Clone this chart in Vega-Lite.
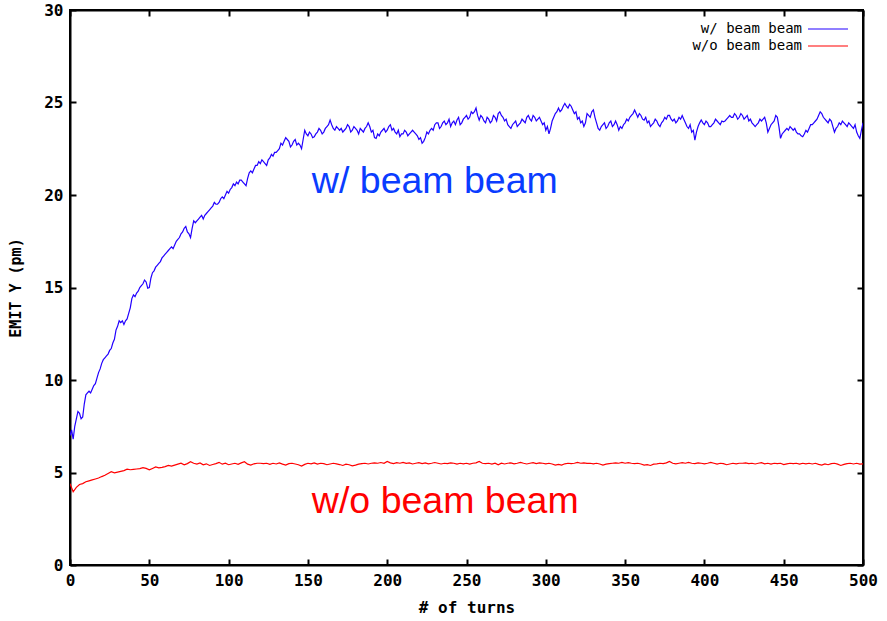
{
  "$schema": "https://vega.github.io/schema/vega-lite/v6.json",
  "width": 793,
  "height": 555,
  "autosize": {"type": "none"},
  "padding": {"left": 70, "top": 10, "right": 24, "bottom": 56},
  "background": "white",
  "config": {
    "view": {"stroke": "black", "strokeWidth": 2},
    "axis": {
      "grid": false,
      "domainColor": "black",
      "domainWidth": 2,
      "tickColor": "black",
      "tickWidth": 2,
      "tickSize": -6,
      "labelFlush": false,
      "labelFont": "DejaVu Sans Mono",
      "labelFontWeight": "bold",
      "labelFontSize": 16,
      "labelColor": "black",
      "titleFont": "DejaVu Sans Mono",
      "titleFontWeight": "bold",
      "titleColor": "black"
    },
    "legend": {
      "orient": "top-right",
      "offset": 12,
      "labelFont": "DejaVu Sans Mono",
      "labelFontSize": 14,
      "labelColor": "black",
      "labelAlign": "right",
      "labelOffset": -33,
      "symbolType": "M-5,0H5",
      "symbolSize": 64,
      "symbolStrokeWidth": 1.2,
      "rowPadding": 3
    }
  },
  "datasets": {
    "withbb": [
      {"turn":0,"emit":7.0},{"turn":1,"emit":7.3},{"turn":2,"emit":6.8},{"turn":3,"emit":7.5},{"turn":4,"emit":7.9},{"turn":5,"emit":8.3},{"turn":6,"emit":8.2},{"turn":7,"emit":7.9},{"turn":8,"emit":8.0},{"turn":9,"emit":8.7},
      {"turn":10,"emit":9.2},{"turn":11,"emit":9.3},{"turn":12,"emit":9.4},{"turn":13,"emit":9.3},{"turn":14,"emit":9.5},{"turn":15,"emit":9.7},{"turn":16,"emit":9.8},{"turn":17,"emit":10.1},{"turn":18,"emit":10.4},{"turn":19,"emit":10.6},
      {"turn":20,"emit":10.9},{"turn":21,"emit":11.1},{"turn":22,"emit":11.2},{"turn":23,"emit":11.3},{"turn":24,"emit":11.4},{"turn":25,"emit":11.6},{"turn":26,"emit":11.7},{"turn":27,"emit":12.0},{"turn":28,"emit":12.2},{"turn":29,"emit":12.7},
      {"turn":30,"emit":12.9},{"turn":31,"emit":13.2},{"turn":32,"emit":13.1},{"turn":33,"emit":13.2},{"turn":34,"emit":13.0},{"turn":35,"emit":13.2},{"turn":36,"emit":13.3},{"turn":37,"emit":13.6},{"turn":38,"emit":13.9},{"turn":39,"emit":14.4},
      {"turn":40,"emit":14.6},{"turn":41,"emit":14.5},{"turn":42,"emit":14.7},{"turn":43,"emit":14.8},{"turn":44,"emit":15.0},{"turn":45,"emit":15.1},{"turn":46,"emit":15.2},{"turn":47,"emit":15.4},{"turn":48,"emit":15.3},{"turn":49,"emit":14.96},
      {"turn":50,"emit":15.0},{"turn":51,"emit":15.5},{"turn":52,"emit":15.8},{"turn":53,"emit":15.9},{"turn":54,"emit":16.1},{"turn":55,"emit":16.2},{"turn":56,"emit":16.3},{"turn":57,"emit":16.4},{"turn":58,"emit":16.6},{"turn":59,"emit":16.7},
      {"turn":60,"emit":16.8},{"turn":61,"emit":16.9},{"turn":62,"emit":17.0},{"turn":63,"emit":17.1},{"turn":64,"emit":17.2},{"turn":65,"emit":17.1},{"turn":66,"emit":17.3},{"turn":67,"emit":17.5},{"turn":68,"emit":17.6},{"turn":69,"emit":17.7},
      {"turn":70,"emit":17.9},{"turn":71,"emit":18.0},{"turn":72,"emit":18.2},{"turn":73,"emit":18.3},{"turn":74,"emit":18.0},{"turn":75,"emit":17.9},{"turn":76,"emit":17.7},{"turn":77,"emit":18.2},{"turn":78,"emit":18.6},{"turn":79,"emit":18.5},
      {"turn":80,"emit":18.6},{"turn":81,"emit":18.7},{"turn":82,"emit":18.8},{"turn":83,"emit":18.9},{"turn":84,"emit":18.7},{"turn":85,"emit":18.9},{"turn":86,"emit":19.0},{"turn":87,"emit":19.1},{"turn":88,"emit":19.2},{"turn":89,"emit":19.3},
      {"turn":90,"emit":19.4},{"turn":91,"emit":19.6},{"turn":92,"emit":19.5},{"turn":93,"emit":19.5},{"turn":94,"emit":19.6},{"turn":95,"emit":19.8},{"turn":96,"emit":19.9},{"turn":97,"emit":19.8},{"turn":98,"emit":20.0},{"turn":99,"emit":20.2},
      {"turn":100,"emit":20.1},{"turn":101,"emit":20.3},{"turn":102,"emit":20.4},{"turn":103,"emit":20.6},{"turn":104,"emit":20.5},{"turn":105,"emit":20.7},{"turn":106,"emit":20.6},{"turn":107,"emit":20.8},{"turn":108,"emit":20.8},{"turn":109,"emit":20.7},
      {"turn":110,"emit":20.6},{"turn":111,"emit":20.5},{"turn":112,"emit":20.9},{"turn":113,"emit":21.2},{"turn":114,"emit":21.3},{"turn":115,"emit":21.2},{"turn":116,"emit":21.4},{"turn":117,"emit":21.6},{"turn":118,"emit":21.6},{"turn":119,"emit":21.8},
      {"turn":120,"emit":21.7},{"turn":121,"emit":21.9},{"turn":122,"emit":21.8},{"turn":123,"emit":21.7},{"turn":124,"emit":21.6},{"turn":125,"emit":21.9},{"turn":126,"emit":22.0},{"turn":127,"emit":22.2},{"turn":128,"emit":22.1},{"turn":129,"emit":22.3},
      {"turn":130,"emit":22.3},{"turn":131,"emit":22.4},{"turn":132,"emit":22.5},{"turn":133,"emit":22.8},{"turn":134,"emit":22.7},{"turn":135,"emit":22.9},{"turn":136,"emit":23.1},{"turn":137,"emit":23.0},{"turn":138,"emit":22.9},{"turn":139,"emit":22.6},
      {"turn":140,"emit":22.7},{"turn":141,"emit":22.9},{"turn":142,"emit":23.0},{"turn":143,"emit":22.7},{"turn":144,"emit":22.8},{"turn":145,"emit":22.7},{"turn":146,"emit":22.5},{"turn":147,"emit":23.0},{"turn":148,"emit":23.5},{"turn":149,"emit":23.3},
      {"turn":150,"emit":23.2},{"turn":151,"emit":23.4},{"turn":152,"emit":23.3},{"turn":153,"emit":23.1},{"turn":154,"emit":23.15},{"turn":155,"emit":23.3},{"turn":156,"emit":23.4},{"turn":157,"emit":23.6},{"turn":158,"emit":23.5},{"turn":159,"emit":23.3},
      {"turn":160,"emit":23.4},{"turn":161,"emit":23.6},{"turn":162,"emit":23.7},{"turn":163,"emit":23.8},{"turn":164,"emit":24.05},{"turn":165,"emit":23.8},{"turn":166,"emit":23.6},{"turn":167,"emit":23.5},{"turn":168,"emit":23.7},{"turn":169,"emit":23.6},
      {"turn":170,"emit":23.5},{"turn":171,"emit":23.6},{"turn":172,"emit":23.4},{"turn":173,"emit":23.5},{"turn":174,"emit":23.6},{"turn":175,"emit":23.8},{"turn":176,"emit":23.7},{"turn":177,"emit":23.4},{"turn":178,"emit":23.5},{"turn":179,"emit":23.7},
      {"turn":180,"emit":23.6},{"turn":181,"emit":23.5},{"turn":182,"emit":23.3},{"turn":183,"emit":23.6},{"turn":184,"emit":23.5},{"turn":185,"emit":23.4},{"turn":186,"emit":23.6},{"turn":187,"emit":23.7},{"turn":188,"emit":23.9},{"turn":189,"emit":23.7},
      {"turn":190,"emit":23.4},{"turn":191,"emit":23.5},{"turn":192,"emit":23.1},{"turn":193,"emit":23.06},{"turn":194,"emit":23.3},{"turn":195,"emit":23.2},{"turn":196,"emit":23.4},{"turn":197,"emit":23.5},{"turn":198,"emit":23.6},{"turn":199,"emit":23.4},
      {"turn":200,"emit":23.5},{"turn":201,"emit":23.7},{"turn":202,"emit":23.8},{"turn":203,"emit":23.5},{"turn":204,"emit":23.6},{"turn":205,"emit":23.4},{"turn":206,"emit":23.3},{"turn":207,"emit":23.5},{"turn":208,"emit":23.15},{"turn":209,"emit":23.3},
      {"turn":210,"emit":23.3},{"turn":211,"emit":23.5},{"turn":212,"emit":23.4},{"turn":213,"emit":23.2},{"turn":214,"emit":23.3},{"turn":215,"emit":23.4},{"turn":216,"emit":23.5},{"turn":217,"emit":23.4},{"turn":218,"emit":23.3},{"turn":219,"emit":23.2},
      {"turn":220,"emit":23.0},{"turn":221,"emit":23.1},{"turn":222,"emit":22.8},{"turn":223,"emit":22.9},{"turn":224,"emit":23.1},{"turn":225,"emit":23.4},{"turn":226,"emit":23.3},{"turn":227,"emit":23.5},{"turn":228,"emit":23.6},{"turn":229,"emit":23.5},
      {"turn":230,"emit":23.8},{"turn":231,"emit":23.9},{"turn":232,"emit":23.9},{"turn":233,"emit":23.6},{"turn":234,"emit":23.7},{"turn":235,"emit":23.9},{"turn":236,"emit":24.0},{"turn":237,"emit":23.8},{"turn":238,"emit":23.9},{"turn":239,"emit":24.1},
      {"turn":240,"emit":23.7},{"turn":241,"emit":23.9},{"turn":242,"emit":24.0},{"turn":243,"emit":23.8},{"turn":244,"emit":24.05},{"turn":245,"emit":24.2},{"turn":246,"emit":23.8},{"turn":247,"emit":23.9},{"turn":248,"emit":24.1},{"turn":249,"emit":24.2},
      {"turn":250,"emit":24.3},{"turn":251,"emit":24.1},{"turn":252,"emit":24.2},{"turn":253,"emit":24.5},{"turn":254,"emit":24.4},{"turn":255,"emit":24.5},{"turn":256,"emit":24.7},{"turn":257,"emit":24.3},{"turn":258,"emit":24.05},{"turn":259,"emit":24.3},
      {"turn":260,"emit":24.2},{"turn":261,"emit":24.0},{"turn":262,"emit":23.9},{"turn":263,"emit":24.2},{"turn":264,"emit":24.1},{"turn":265,"emit":23.9},{"turn":266,"emit":24.0},{"turn":267,"emit":24.3},{"turn":268,"emit":24.2},{"turn":269,"emit":24.0},
      {"turn":270,"emit":24.4},{"turn":271,"emit":24.5},{"turn":272,"emit":24.3},{"turn":273,"emit":24.2},{"turn":274,"emit":24.0},{"turn":275,"emit":24.1},{"turn":276,"emit":23.8},{"turn":277,"emit":23.7},{"turn":278,"emit":23.6},{"turn":279,"emit":23.8},
      {"turn":280,"emit":23.9},{"turn":281,"emit":24.0},{"turn":282,"emit":23.7},{"turn":283,"emit":23.8},{"turn":284,"emit":23.9},{"turn":285,"emit":24.1},{"turn":286,"emit":24.0},{"turn":287,"emit":23.9},{"turn":288,"emit":24.2},{"turn":289,"emit":24.3},
      {"turn":290,"emit":24.1},{"turn":291,"emit":24.0},{"turn":292,"emit":24.3},{"turn":293,"emit":24.2},{"turn":294,"emit":24.0},{"turn":295,"emit":24.1},{"turn":296,"emit":24.2},{"turn":297,"emit":24.0},{"turn":298,"emit":23.8},{"turn":299,"emit":23.9},
      {"turn":300,"emit":23.5},{"turn":301,"emit":23.7},{"turn":302,"emit":23.3},{"turn":303,"emit":23.6},{"turn":304,"emit":24.0},{"turn":305,"emit":24.2},{"turn":306,"emit":24.4},{"turn":307,"emit":24.5},{"turn":308,"emit":24.7},{"turn":309,"emit":24.5},
      {"turn":310,"emit":24.6},{"turn":311,"emit":24.8},{"turn":312,"emit":24.95},{"turn":313,"emit":24.8},{"turn":314,"emit":24.7},{"turn":315,"emit":24.9},{"turn":316,"emit":24.8},{"turn":317,"emit":24.6},{"turn":318,"emit":24.4},{"turn":319,"emit":24.5},
      {"turn":320,"emit":24.1},{"turn":321,"emit":24.2},{"turn":322,"emit":23.9},{"turn":323,"emit":24.0},{"turn":324,"emit":23.7},{"turn":325,"emit":23.9},{"turn":326,"emit":24.4},{"turn":327,"emit":24.3},{"turn":328,"emit":24.2},{"turn":329,"emit":24.5},
      {"turn":330,"emit":24.6},{"turn":331,"emit":24.2},{"turn":332,"emit":23.9},{"turn":333,"emit":23.6},{"turn":334,"emit":23.5},{"turn":335,"emit":23.7},{"turn":336,"emit":23.8},{"turn":337,"emit":23.9},{"turn":338,"emit":23.6},{"turn":339,"emit":23.7},
      {"turn":340,"emit":23.9},{"turn":341,"emit":24.0},{"turn":342,"emit":23.7},{"turn":343,"emit":23.8},{"turn":344,"emit":24.0},{"turn":345,"emit":23.8},{"turn":346,"emit":23.5},{"turn":347,"emit":23.7},{"turn":348,"emit":23.6},{"turn":349,"emit":23.8},
      {"turn":350,"emit":23.9},{"turn":351,"emit":24.1},{"turn":352,"emit":24.0},{"turn":353,"emit":24.2},{"turn":354,"emit":24.3},{"turn":355,"emit":24.4},{"turn":356,"emit":24.6},{"turn":357,"emit":24.4},{"turn":358,"emit":24.2},{"turn":359,"emit":24.4},
      {"turn":360,"emit":24.3},{"turn":361,"emit":24.1},{"turn":362,"emit":24.05},{"turn":363,"emit":24.2},{"turn":364,"emit":23.9},{"turn":365,"emit":24.0},{"turn":366,"emit":23.7},{"turn":367,"emit":23.8},{"turn":368,"emit":23.9},{"turn":369,"emit":24.1},
      {"turn":370,"emit":24.0},{"turn":371,"emit":23.8},{"turn":372,"emit":23.7},{"turn":373,"emit":23.9},{"turn":374,"emit":24.0},{"turn":375,"emit":24.2},{"turn":376,"emit":24.1},{"turn":377,"emit":24.3},{"turn":378,"emit":24.3},{"turn":379,"emit":24.1},
      {"turn":380,"emit":24.0},{"turn":381,"emit":24.1},{"turn":382,"emit":23.9},{"turn":383,"emit":24.0},{"turn":384,"emit":24.2},{"turn":385,"emit":24.1},{"turn":386,"emit":24.3},{"turn":387,"emit":24.1},{"turn":388,"emit":23.9},{"turn":389,"emit":23.7},
      {"turn":390,"emit":23.6},{"turn":391,"emit":23.8},{"turn":392,"emit":23.4},{"turn":393,"emit":23.5},{"turn":394,"emit":22.97},{"turn":395,"emit":23.4},{"turn":396,"emit":23.7},{"turn":397,"emit":23.9},{"turn":398,"emit":24.05},{"turn":399,"emit":23.9},
      {"turn":400,"emit":23.8},{"turn":401,"emit":24.0},{"turn":402,"emit":23.9},{"turn":403,"emit":23.7},{"turn":404,"emit":23.7},{"turn":405,"emit":23.8},{"turn":406,"emit":23.9},{"turn":407,"emit":24.1},{"turn":408,"emit":24.0},{"turn":409,"emit":23.9},
      {"turn":410,"emit":23.8},{"turn":411,"emit":24.0},{"turn":412,"emit":23.96},{"turn":413,"emit":24.0},{"turn":414,"emit":24.1},{"turn":415,"emit":24.2},{"turn":416,"emit":24.3},{"turn":417,"emit":24.2},{"turn":418,"emit":24.2},{"turn":419,"emit":24.4},
      {"turn":420,"emit":24.3},{"turn":421,"emit":24.1},{"turn":422,"emit":24.2},{"turn":423,"emit":24.4},{"turn":424,"emit":24.3},{"turn":425,"emit":24.1},{"turn":426,"emit":24.2},{"turn":427,"emit":24.3},{"turn":428,"emit":24.0},{"turn":429,"emit":24.1},
      {"turn":430,"emit":23.9},{"turn":431,"emit":23.8},{"turn":432,"emit":23.7},{"turn":433,"emit":23.8},{"turn":434,"emit":23.9},{"turn":435,"emit":24.1},{"turn":436,"emit":24.0},{"turn":437,"emit":24.1},{"turn":438,"emit":24.2},{"turn":439,"emit":23.9},
      {"turn":440,"emit":23.4},{"turn":441,"emit":23.6},{"turn":442,"emit":23.8},{"turn":443,"emit":23.9},{"turn":444,"emit":24.0},{"turn":445,"emit":24.3},{"turn":446,"emit":24.2},{"turn":447,"emit":23.7},{"turn":448,"emit":23.06},{"turn":449,"emit":23.3},
      {"turn":450,"emit":23.4},{"turn":451,"emit":23.5},{"turn":452,"emit":23.6},{"turn":453,"emit":23.5},{"turn":454,"emit":23.7},{"turn":455,"emit":23.6},{"turn":456,"emit":23.5},{"turn":457,"emit":23.6},{"turn":458,"emit":23.4},{"turn":459,"emit":23.3},
      {"turn":460,"emit":23.3},{"turn":461,"emit":23.2},{"turn":462,"emit":23.15},{"turn":463,"emit":23.3},{"turn":464,"emit":23.5},{"turn":465,"emit":23.4},{"turn":466,"emit":23.6},{"turn":467,"emit":23.8},{"turn":468,"emit":23.8},{"turn":469,"emit":23.9},
      {"turn":470,"emit":24.0},{"turn":471,"emit":24.1},{"turn":472,"emit":24.3},{"turn":473,"emit":24.5},{"turn":474,"emit":24.4},{"turn":475,"emit":24.2},{"turn":476,"emit":24.1},{"turn":477,"emit":24.0},{"turn":478,"emit":23.9},{"turn":479,"emit":24.1},
      {"turn":480,"emit":24.0},{"turn":481,"emit":23.7},{"turn":482,"emit":23.4},{"turn":483,"emit":23.6},{"turn":484,"emit":23.7},{"turn":485,"emit":23.9},{"turn":486,"emit":23.8},{"turn":487,"emit":24.0},{"turn":488,"emit":23.9},{"turn":489,"emit":23.8},
      {"turn":490,"emit":23.7},{"turn":491,"emit":23.9},{"turn":492,"emit":23.8},{"turn":493,"emit":23.7},{"turn":494,"emit":23.6},{"turn":495,"emit":23.8},{"turn":496,"emit":23.4},{"turn":497,"emit":23.2},{"turn":498,"emit":23.06},{"turn":499,"emit":23.5},
      {"turn":500,"emit":23.9}
    ],
    "nobb": [
      {"turn":0,"emit":4.4},{"turn":2,"emit":3.96},{"turn":4,"emit":4.2},{"turn":6,"emit":4.35},{"turn":8,"emit":4.4},
      {"turn":10,"emit":4.5},{"turn":12,"emit":4.55},{"turn":14,"emit":4.6},{"turn":16,"emit":4.65},{"turn":18,"emit":4.7},
      {"turn":20,"emit":4.78},{"turn":22,"emit":4.85},{"turn":24,"emit":4.95},{"turn":26,"emit":5.04},{"turn":28,"emit":4.98},
      {"turn":30,"emit":5.02},{"turn":32,"emit":5.06},{"turn":34,"emit":5.1},{"turn":36,"emit":5.18},{"turn":38,"emit":5.15},
      {"turn":40,"emit":5.17},{"turn":42,"emit":5.19},{"turn":44,"emit":5.21},{"turn":46,"emit":5.26},{"turn":48,"emit":5.22},
      {"turn":50,"emit":5.14},{"turn":52,"emit":5.22},{"turn":54,"emit":5.3},{"turn":56,"emit":5.25},{"turn":58,"emit":5.28},
      {"turn":60,"emit":5.32},{"turn":62,"emit":5.38},{"turn":64,"emit":5.35},{"turn":66,"emit":5.4},{"turn":68,"emit":5.45},
      {"turn":70,"emit":5.5},{"turn":72,"emit":5.42},{"turn":74,"emit":5.48},{"turn":76,"emit":5.58},{"turn":78,"emit":5.5},
      {"turn":80,"emit":5.45},{"turn":82,"emit":5.52},{"turn":84,"emit":5.42},{"turn":86,"emit":5.47},{"turn":88,"emit":5.38},
      {"turn":90,"emit":5.43},{"turn":92,"emit":5.48},{"turn":94,"emit":5.55},{"turn":96,"emit":5.45},{"turn":98,"emit":5.5},
      {"turn":100,"emit":5.42},{"turn":102,"emit":5.46},{"turn":104,"emit":5.5},{"turn":106,"emit":5.44},{"turn":108,"emit":5.52},
      {"turn":110,"emit":5.58},{"turn":112,"emit":5.45},{"turn":114,"emit":5.4},{"turn":116,"emit":5.47},{"turn":118,"emit":5.5},
      {"turn":120,"emit":5.5},{"turn":122,"emit":5.48},{"turn":124,"emit":5.5},{"turn":126,"emit":5.44},{"turn":128,"emit":5.5},
      {"turn":130,"emit":5.46},{"turn":132,"emit":5.52},{"turn":134,"emit":5.45},{"turn":136,"emit":5.4},{"turn":138,"emit":5.48},
      {"turn":140,"emit":5.5},{"turn":142,"emit":5.46},{"turn":144,"emit":5.42},{"turn":146,"emit":5.35},{"turn":148,"emit":5.44},
      {"turn":150,"emit":5.5},{"turn":152,"emit":5.47},{"turn":154,"emit":5.52},{"turn":156,"emit":5.45},{"turn":158,"emit":5.5},
      {"turn":160,"emit":5.48},{"turn":162,"emit":5.42},{"turn":164,"emit":5.46},{"turn":166,"emit":5.5},{"turn":168,"emit":5.47},
      {"turn":170,"emit":5.43},{"turn":172,"emit":5.38},{"turn":174,"emit":5.45},{"turn":176,"emit":5.42},{"turn":178,"emit":5.36},
      {"turn":180,"emit":5.4},{"turn":182,"emit":5.45},{"turn":184,"emit":5.48},{"turn":186,"emit":5.5},{"turn":188,"emit":5.46},
      {"turn":190,"emit":5.5},{"turn":192,"emit":5.52},{"turn":194,"emit":5.5},{"turn":196,"emit":5.54},{"turn":198,"emit":5.5},
      {"turn":200,"emit":5.6},{"turn":202,"emit":5.52},{"turn":204,"emit":5.48},{"turn":206,"emit":5.53},{"turn":208,"emit":5.5},
      {"turn":210,"emit":5.55},{"turn":212,"emit":5.49},{"turn":214,"emit":5.52},{"turn":216,"emit":5.46},{"turn":218,"emit":5.5},
      {"turn":220,"emit":5.53},{"turn":222,"emit":5.48},{"turn":224,"emit":5.52},{"turn":226,"emit":5.47},{"turn":228,"emit":5.5},
      {"turn":230,"emit":5.54},{"turn":232,"emit":5.5},{"turn":234,"emit":5.46},{"turn":236,"emit":5.5},{"turn":238,"emit":5.48},
      {"turn":240,"emit":5.52},{"turn":242,"emit":5.5},{"turn":244,"emit":5.45},{"turn":246,"emit":5.5},{"turn":248,"emit":5.47},
      {"turn":250,"emit":5.5},{"turn":252,"emit":5.45},{"turn":254,"emit":5.5},{"turn":256,"emit":5.52},{"turn":258,"emit":5.6},
      {"turn":260,"emit":5.5},{"turn":262,"emit":5.48},{"turn":264,"emit":5.5},{"turn":266,"emit":5.45},{"turn":268,"emit":5.5},
      {"turn":270,"emit":5.42},{"turn":272,"emit":5.5},{"turn":274,"emit":5.46},{"turn":276,"emit":5.5},{"turn":278,"emit":5.52},
      {"turn":280,"emit":5.47},{"turn":282,"emit":5.5},{"turn":284,"emit":5.55},{"turn":286,"emit":5.5},{"turn":288,"emit":5.46},
      {"turn":290,"emit":5.5},{"turn":292,"emit":5.53},{"turn":294,"emit":5.48},{"turn":296,"emit":5.52},{"turn":298,"emit":5.5},
      {"turn":300,"emit":5.47},{"turn":302,"emit":5.5},{"turn":304,"emit":5.46},{"turn":306,"emit":5.4},{"turn":308,"emit":5.44},
      {"turn":310,"emit":5.4},{"turn":312,"emit":5.47},{"turn":314,"emit":5.5},{"turn":316,"emit":5.48},{"turn":318,"emit":5.5},
      {"turn":320,"emit":5.55},{"turn":322,"emit":5.5},{"turn":324,"emit":5.52},{"turn":326,"emit":5.49},{"turn":328,"emit":5.5},
      {"turn":330,"emit":5.47},{"turn":332,"emit":5.5},{"turn":334,"emit":5.46},{"turn":336,"emit":5.4},{"turn":338,"emit":5.45},
      {"turn":340,"emit":5.48},{"turn":342,"emit":5.5},{"turn":344,"emit":5.52},{"turn":346,"emit":5.5},{"turn":348,"emit":5.55},
      {"turn":350,"emit":5.5},{"turn":352,"emit":5.53},{"turn":354,"emit":5.5},{"turn":356,"emit":5.48},{"turn":358,"emit":5.5},
      {"turn":360,"emit":5.46},{"turn":362,"emit":5.4},{"turn":364,"emit":5.42},{"turn":366,"emit":5.38},{"turn":368,"emit":5.45},
      {"turn":370,"emit":5.47},{"turn":372,"emit":5.5},{"turn":374,"emit":5.48},{"turn":376,"emit":5.52},{"turn":378,"emit":5.6},
      {"turn":380,"emit":5.5},{"turn":382,"emit":5.47},{"turn":384,"emit":5.5},{"turn":386,"emit":5.53},{"turn":388,"emit":5.5},
      {"turn":390,"emit":5.55},{"turn":392,"emit":5.5},{"turn":394,"emit":5.48},{"turn":396,"emit":5.52},{"turn":398,"emit":5.5},
      {"turn":400,"emit":5.47},{"turn":402,"emit":5.5},{"turn":404,"emit":5.55},{"turn":406,"emit":5.5},{"turn":408,"emit":5.45},
      {"turn":410,"emit":5.5},{"turn":412,"emit":5.48},{"turn":414,"emit":5.42},{"turn":416,"emit":5.46},{"turn":418,"emit":5.5},
      {"turn":420,"emit":5.47},{"turn":422,"emit":5.5},{"turn":424,"emit":5.5},{"turn":426,"emit":5.52},{"turn":428,"emit":5.48},
      {"turn":430,"emit":5.5},{"turn":432,"emit":5.46},{"turn":434,"emit":5.5},{"turn":436,"emit":5.53},{"turn":438,"emit":5.47},
      {"turn":440,"emit":5.5},{"turn":442,"emit":5.45},{"turn":444,"emit":5.5},{"turn":446,"emit":5.48},{"turn":448,"emit":5.5},
      {"turn":450,"emit":5.43},{"turn":452,"emit":5.47},{"turn":454,"emit":5.5},{"turn":456,"emit":5.48},{"turn":458,"emit":5.5},
      {"turn":460,"emit":5.45},{"turn":462,"emit":5.5},{"turn":464,"emit":5.47},{"turn":466,"emit":5.5},{"turn":468,"emit":5.46},
      {"turn":470,"emit":5.5},{"turn":472,"emit":5.44},{"turn":474,"emit":5.4},{"turn":476,"emit":5.46},{"turn":478,"emit":5.42},
      {"turn":480,"emit":5.48},{"turn":482,"emit":5.5},{"turn":484,"emit":5.45},{"turn":486,"emit":5.38},{"turn":488,"emit":5.44},
      {"turn":490,"emit":5.48},{"turn":492,"emit":5.5},{"turn":494,"emit":5.46},{"turn":496,"emit":5.5},{"turn":498,"emit":5.45},
      {"turn":500,"emit":5.47}
    ]
  },
  "resolve": {"axis": {"x": "independent", "y": "independent"}},
  "layer": [
    {
      "data": {"name": "withbb"},
      "mark": {"type": "line", "strokeWidth": 1.2, "clip": true},
      "encoding": {
        "x": {
          "field": "turn", "type": "quantitative",
          "scale": {"domain": [0, 500], "nice": false},
          "axis": {"title": "# of turns", "titleFontSize": 16, "values": [0,50,100,150,200,250,300,350,400,450,500], "labelPadding": 13, "titlePadding": 11}
        },
        "y": {
          "field": "emit", "type": "quantitative",
          "scale": {"domain": [0, 30], "nice": false},
          "axis": {"title": "EMIT Y (pm)", "titleFontSize": 15, "values": [0,5,10,15,20,25,30], "labelPadding": 13, "titlePadding": 20}
        },
        "color": {
          "datum": "w/ beam beam",
          "scale": {"domain": ["w/ beam beam", "w/o beam beam"], "range": ["#2200ff", "#ff0000"]},
          "legend": {"title": null}
        }
      }
    },
    {
      "data": {"name": "nobb"},
      "mark": {"type": "line", "strokeWidth": 1.2, "clip": true},
      "encoding": {
        "x": {"field": "turn", "type": "quantitative", "axis": null},
        "y": {"field": "emit", "type": "quantitative", "axis": null},
        "color": {"datum": "w/o beam beam"}
      }
    },
    {
      "data": {"values": [{}]},
      "mark": {"type": "text", "font": "Liberation Sans", "fontSize": 37.5, "align": "left", "baseline": "alphabetic", "color": "#0a3cff"},
      "encoding": {
        "x": {"datum": 152.5, "type": "quantitative", "axis": {"orient": "top", "labels": false, "title": null, "values": [0,50,100,150,200,250,300,350,400,450,500]}},
        "y": {"datum": 20.1, "type": "quantitative", "axis": {"orient": "right", "labels": false, "title": null, "values": [0,5,10,15,20,25,30]}},
        "text": {"value": "w/ beam beam"}
      }
    },
    {
      "data": {"values": [{}]},
      "mark": {"type": "text", "font": "Liberation Sans", "fontSize": 37.5, "align": "left", "baseline": "alphabetic", "color": "#ff0000"},
      "encoding": {
        "x": {"datum": 152.5, "type": "quantitative", "axis": null},
        "y": {"datum": 2.8, "type": "quantitative", "axis": null},
        "text": {"value": "w/o beam beam"}
      }
    }
  ]
}
